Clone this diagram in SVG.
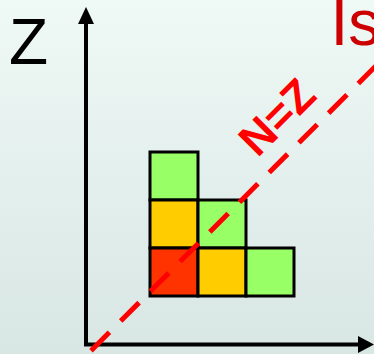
<svg xmlns="http://www.w3.org/2000/svg" width="374" height="354" viewBox="0 0 374 354">
<defs>
<linearGradient id="bg" x1="0" y1="0" x2="0" y2="1">
<stop offset="0" stop-color="#eff9f6"/>
<stop offset="1" stop-color="#d8e6e4"/>
</linearGradient>
<style>
.cell{stroke:#000;stroke-width:3}
.g{fill:#99ff66}.y{fill:#ffcc00}.r{fill:#ff3300}
.axis{stroke:#000;stroke-width:4;fill:none}
.lbl{font-family:"Liberation Sans",Arial,sans-serif}
</style>
</defs>
<rect width="374" height="354" fill="url(#bg)"/>
<g id="cells">
<rect class="cell g" x="150" y="152" width="48" height="48"/>
<rect class="cell y" x="150" y="200" width="48" height="48"/>
<rect class="cell g" x="198" y="200" width="48" height="48"/>
<rect class="cell r" x="150" y="248" width="48" height="48"/>
<rect class="cell y" x="198" y="248" width="48" height="48"/>
<rect class="cell g" x="246" y="248" width="48" height="48"/>
</g>
<g id="connectors">
<path class="axis" d="M86 346 V22"/>
<polygon points="86,7 78,24 94,24" fill="#000"/>
<path class="axis" d="M84 344.5 H360"/>
<polygon points="374,344.5 358,336 358,353" fill="#000"/>
<path d="M91 350.7 L378 63.7" stroke="#ff0000" stroke-width="5" stroke-dasharray="26 16" fill="none"/>
</g>
<g id="labels">
<text class="lbl" x="9" y="64" font-size="64" fill="#000">Z</text>
<text class="lbl" x="330.5" y="45" font-size="64" fill="#cc0000">Is</text>
<text class="lbl" transform="translate(257.5,158.5) rotate(-45)" font-size="45" font-weight="bold" fill="#ff0000">N=Z</text>
</g>
</svg>
